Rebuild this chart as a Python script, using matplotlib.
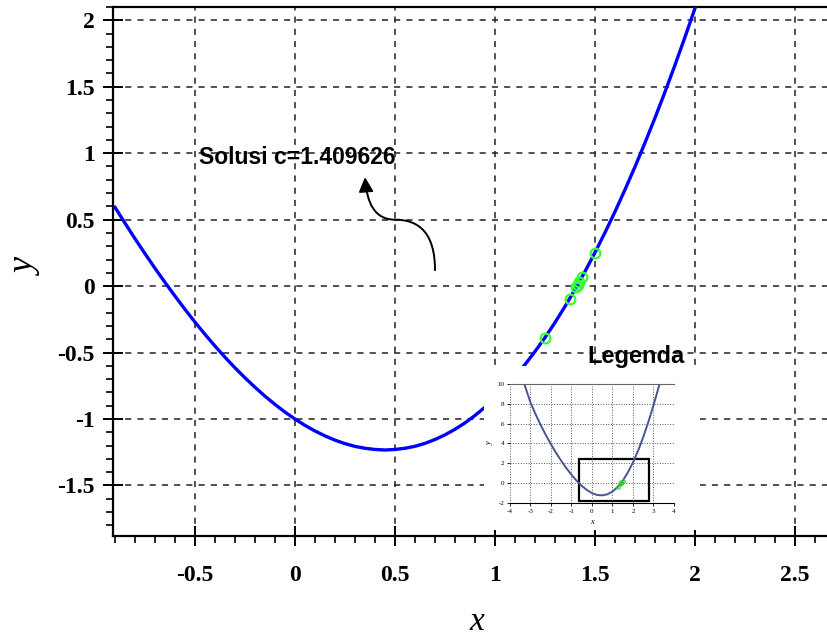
import numpy as np
import matplotlib.pyplot as plt
from matplotlib.path import Path
from matplotlib.patches import FancyArrowPatch, Rectangle
from matplotlib.ticker import MultipleLocator

plt.rcParams['axes.unicode_minus'] = False

# main curve, values
x_curve = [-0.9, -0.85, -0.8, -0.75, -0.7, -0.65, -0.6, -0.55, -0.5, -0.45,
           -0.4, -0.35, -0.3, -0.25, -0.2, -0.15, -0.1, -0.05, 0.0, 0.05,
           0.1, 0.15, 0.2, 0.25, 0.3, 0.35, 0.4, 0.45, 0.5, 0.55,
           0.6, 0.65, 0.7, 0.75, 0.8, 0.85, 0.9, 0.95, 1.0, 1.05,
           1.1, 1.15, 1.2, 1.25, 1.3, 1.35, 1.4, 1.45, 1.5, 1.55,
           1.6, 1.65, 1.7, 1.75, 1.8, 1.85, 1.9, 1.95, 2.0]
y_curve = [0.593, 0.474, 0.357, 0.244, 0.134, 0.028, -0.075, -0.175, -0.271, -0.363,
           -0.451, -0.535, -0.615, -0.690, -0.761, -0.828, -0.890, -0.948, -1.0, -1.048,
           -1.090, -1.127, -1.159, -1.185, -1.206, -1.220, -1.229, -1.233, -1.229, -1.220,
           -1.205, -1.183, -1.154, -1.119, -1.077, -1.029, -0.973, -0.911, -0.841, -0.765,
           -0.681, -0.590, -0.492, -0.387, -0.274, -0.153, -0.025, 0.110, 0.253, 0.403,
           0.560, 0.726, 0.898, 1.079, 1.266, 1.461, 1.664, 1.874, 2.091]

# iteration points (green circles)
x_iter = [1.25, 1.375, 1.40625, 1.414, 1.421875, 1.4375, 1.5]
y_iter = [-0.39, -0.10, -0.01, 0.01, 0.03, 0.07, 0.25]

# small overview plot ("Legenda")
x_over = [-3.3, -3.25, -3.0, -2.75, -2.5, -2.25, -2.0, -1.75, -1.5, -1.25, -1.0, -0.75,
          -0.5, -0.25, 0.0, 0.25, 0.5, 0.75, 1.0, 1.25, 1.5, 1.75, 2.0, 2.25,
          2.5, 2.75, 3.0, 3.25, 3.3]
y_over = [10.05, 9.67, 8.14, 6.94, 5.85, 4.84, 3.91, 3.05, 2.25, 1.51, 0.84, 0.24,
          -0.27, -0.69, -1.0, -1.19, -1.23, -1.12, -0.84, -0.39, 0.25, 1.08, 2.09, 3.28,
          4.65, 6.18, 7.86, 9.67, 10.05]
box_over = (-0.63, -1.75, 3.39, 4.2)  # x, y, width, height

label_text = 'Solusi c=1.409626'

fig = plt.figure(figsize=(8.28, 6.38), dpi=100)
ax = fig.add_axes([113/828, 102/638, 1 - 113/828, 529/638])

ax.plot(x_curve, y_curve, color='#0000ff', lw=2.4, zorder=3)
ax.plot(x_iter, y_iter, 'o', mfc='none', mec='#33ff33', mew=1.6, ms=7, zorder=4)

ax.set_xlim(-0.91, 2.665)
ax.set_ylim(-1.88, 2.10)
ax.xaxis.set_major_locator(MultipleLocator(0.5))
ax.xaxis.set_minor_locator(MultipleLocator(0.1))
ax.yaxis.set_major_locator(MultipleLocator(0.5))
ax.yaxis.set_minor_locator(MultipleLocator(0.1))
ax.grid(True, which='major', color='#222222', ls=(0, (4, 4)), lw=1.1)
ax.spines['right'].set_visible(False)
for s in ['left', 'bottom', 'top']:
    ax.spines[s].set_linewidth(1.6)
ax.tick_params(which='major', direction='inout', length=14, width=1.4)
ax.tick_params(which='minor', direction='out', length=5, width=1.2)

ax.xaxis.set_major_formatter(plt.FuncFormatter(lambda v, p: '%g' % v))
ax.yaxis.set_major_formatter(plt.FuncFormatter(lambda v, p: '%g' % v))
for lab in ax.get_xticklabels() + ax.get_yticklabels():
    lab.set_fontfamily('Liberation Serif')
    lab.set_fontweight('bold')
    lab.set_fontsize(17)
ax.tick_params(axis='x', pad=14)
ax.tick_params(axis='y', pad=6)

fig.text(477/828, 1 - 630/638, 'x', fontfamily='Liberation Serif', fontstyle='italic',
         fontsize=24, ha='center', va='baseline')
fig.text(27/828, 1 - 268/638, 'y', fontfamily='Liberation Serif', fontstyle='italic',
         fontsize=26, ha='center', va='center', rotation=90)

ax.text(-0.48, 0.97, label_text, fontfamily='Liberation Sans', fontweight='bold',
        fontsize=16.5, va='center', ha='left', zorder=5)

# curved arrow
verts = [(0.70, 0.12), (0.70, 0.40), (0.62, 0.50), (0.50, 0.50),
         (0.40, 0.50), (0.36, 0.62), (0.35, 0.82)]
codes = [Path.MOVETO, Path.CURVE4, Path.CURVE4, Path.CURVE4,
         Path.CURVE4, Path.CURVE4, Path.CURVE4]
arrow = FancyArrowPatch(path=Path(verts, codes), arrowstyle='-|>', mutation_scale=22,
                        color='black', lw=1.4, transform=ax.transData, zorder=5)
ax.add_patch(arrow)

# white backdrop of the overview picture
bg = fig.add_axes([484/828, 1 - 530/638, 216/828, 164/638])
bg.set_facecolor('white')
bg.set_xticks([])
bg.set_yticks([])
for s in bg.spines.values():
    s.set_visible(False)

fig.text(636/828, 1 - 357/638, 'Legenda', fontfamily='Liberation Sans', fontweight='bold',
         fontsize=17, ha='center', va='center')

ins = fig.add_axes([510/828, 1 - 503/638, 164/828, 119/638])
ins.plot(x_over, y_over, color='#4a5590', lw=1.4)
ins.plot(x_iter, y_iter, 'o', mfc='none', mec='#33cc33', mew=0.8, ms=2.5)
ins.add_patch(Rectangle(box_over[:2], box_over[2], box_over[3], fill=False, ec='black', lw=1.6))
ins.set_xlim(-4, 4)
ins.set_ylim(-2, 10)
ins.set_xticks(range(-4, 5))
ins.set_yticks(range(-2, 11, 2))
ins.grid(True, color='#555555', ls=':', lw=0.7)
ins.spines['left'].set_visible(False)
ins.spines['right'].set_visible(False)
ins.spines['top'].set_color('#666666')
ins.tick_params(labelsize=5, length=2, width=0.6, pad=2)
for lab in ins.get_xticklabels() + ins.get_yticklabels():
    lab.set_fontfamily('Liberation Serif')
ins.set_xlabel('x', fontsize=6, fontstyle='italic', fontfamily='Liberation Serif', labelpad=3)
ins.set_ylabel('y', fontsize=6, fontstyle='italic', fontfamily='Liberation Serif', labelpad=3)

fig.savefig('out.png', dpi=100)
